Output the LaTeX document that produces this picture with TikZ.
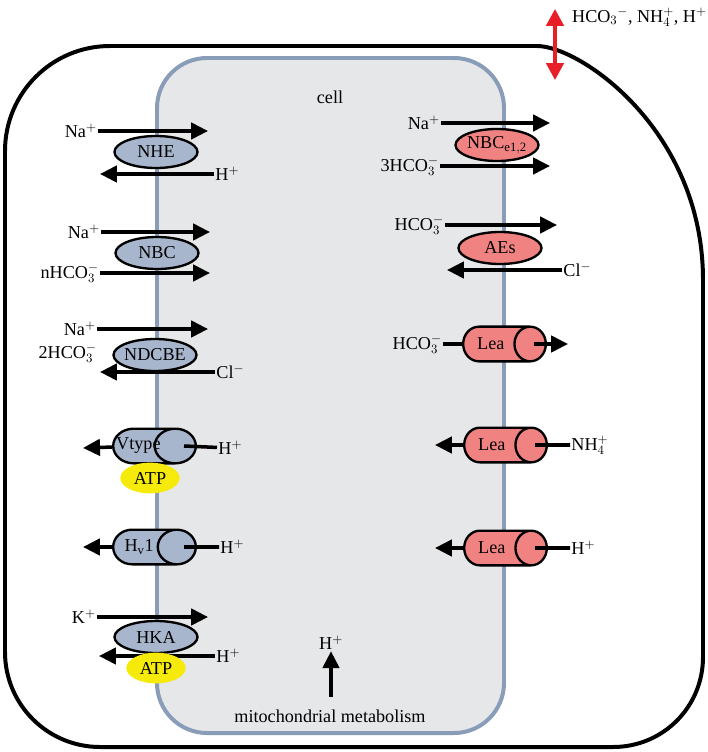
\documentclass[tikz,border=0pt]{standalone}
\usepackage{fontspec}
\setmainfont{Liberation Serif}
\usetikzlibrary{arrows.meta,calc,shapes.geometric}
\newcommand\zw[1]{\makebox[0pt]{#1}}
\newcommand\cy[1]{\makebox[0pt]{\hspace{-9pt}#1}}

\begin{document}
\begin{tikzpicture}[x=0.03cm,y=-0.03cm,font=\fontsize{15.5}{18}\selectfont]
\definecolor{bluep}{RGB}{168,182,205}
\definecolor{pinkp}{RGB}{240,130,130}
\definecolor{atpyellow}{RGB}{245,234,10}
\definecolor{cellfill}{RGB}{230,231,233}
\definecolor{cellline}{RGB}{137,157,185}
\definecolor{exred}{RGB}{232,30,40}
\tikzset{
  flux/.style={line width=3pt,-{Triangle[length=14.5pt,width=14pt]}},
  ion/.style={inner sep=1pt},
  pump/.style={ellipse,draw,line width=2pt,minimum width=2.49cm,minimum height=0.96cm,inner sep=0pt},
  chan/.style={cylinder,draw,line width=2pt,minimum width=1.04cm,minimum height=2.48cm,aspect=2.6,anchor=west,
    inner sep=0pt,cylinder uses custom fill,cylinder body fill=#1,cylinder end fill=#1},
  atp/.style={ellipse,fill=atpyellow,minimum width=1.78cm,minimum height=0.92cm,inner sep=0pt}
}
\useasboundingbox (0,0) rectangle (708,752);

% outer box
\draw[line width=3.4pt] (5,151) .. controls (5,93) and (52,46) .. (110,46) -- (537,46)
  .. controls (580,46) and (703,130) .. (703,280) -- (703,657)
  .. controls (703,707) and (663,747) .. (613,747) -- (100,747)
  .. controls (48,747) and (5,705) .. (5,652) -- cycle;
% cell
\draw[cellline,fill=cellfill,line width=3.4pt,rounded corners=1.5cm] (157,58) rectangle (504,733);
\node (cell) at (330,97) {cell};

% left membrane
\node[pump,fill=bluep] (nhe) at (156,152) {\zw{NHE}};
\node[pump,fill=bluep] (nbc) at (157,253) {\zw{NBC}};
\node[pump,fill=bluep] (ndcbe) at (155,355) {\zw{NDCBE}};
\node[chan=bluep] (vtype) at (112,446) {\cy{Vtype}};
\node[chan=bluep] (hv1) at (112,547) {\cy{H$_\mathrm{v}$1}};
\node[pump,fill=bluep] (hka) at (156,637) {\zw{HKA}};

\node[ion,anchor=east] (na1) at (98,131) {Na$^+$};
\node[ion,anchor=west] (h1) at (214,174) {H$^+$};
\node[ion,anchor=east] (na2) at (101,232) {Na$^+$};
\node[ion,anchor=east] (hco1) at (100,273) {nHCO$_3^-$};
\node[ion,anchor=east] (na3) at (97,329) {Na$^+$};
\node[ion,anchor=east] (hco2) at (98,353) {2HCO$_3^-$};
\node[ion,anchor=west] (cl1) at (215,372) {Cl$^-$};
\node[ion,anchor=west] (h2) at (217,448) {H$^+$};
\node[ion,anchor=west] (h3) at (219,547) {H$^+$};
\node[ion,anchor=east] (k1) at (97,617) {K$^+$};
\node[ion,anchor=west] (h4) at (215,656) {H$^+$};

\coordinate (na1t) at (208,131); \coordinate (h1t) at (100,174);
\coordinate (na2t) at (210,232); \coordinate (hco1t) at (210,273);
\coordinate (na3t) at (208,329); \coordinate (cl1t) at (100,372);
\coordinate (vtypet) at (83,448); \coordinate (hv1t) at (83,547);
\coordinate (k1t) at (208,617);  \coordinate (h4t) at (99,656);

% right membrane
\node[pump,fill=pinkp] (nbce) at (497,145) {\zw{NBC$_\mathrm{e1,2}$}};
\node[pump,fill=pinkp] (aes) at (500,248) {\zw{AEs}};
\node[chan=pinkp] (lea1) at (462,344) {\cy{Lea}};
\node[chan=pinkp] (lea2) at (463,445) {\cy{Lea}};
\node[chan=pinkp] (lea3) at (463,548) {\cy{Lea}};

\node[ion,anchor=east] (na4) at (441,123) {Na$^+$};
\node[ion,anchor=east] (hco3) at (440,166) {3HCO$_3^-$};
\node[ion,anchor=east] (hco4) at (445,225) {HCO$_3^-$};
\node[ion,anchor=west] (cl2) at (562,270) {Cl$^-$};
\node[ion,anchor=east] (hco5) at (443,344) {HCO$_3^-$};
\node[ion,anchor=west] (nh1) at (570,445) {NH$_4^+$};
\node[ion,anchor=west] (h5) at (570,548) {H$^+$};

\coordinate (na4t) at (550,123); \coordinate (hco3t) at (550,166);
\coordinate (hco4t) at (557,225); \coordinate (cl2t) at (447,270);
\coordinate (lea1t) at (568,344); \coordinate (lea2t) at (435,445);
\coordinate (lea3t) at (435,548);

\foreach \a in {na1,h1,na2,hco1,na3,cl1,vtype,hv1,k1,h4,na4,hco3,hco4,cl2,lea2,lea3}
  \draw[flux] (\a) -- (\a t);
\foreach \c/\i in {vtype/h2,hv1/h3,lea2/nh1,lea3/h5}
  \draw[line width=3pt] ($(\c.east)+(-13,0)$) -- (\i);
\draw[line width=3pt] (hco5) -- (lea1);
\draw[flux] ($(lea1.east)+(-13,0)$) -- (lea1t);

\node[atp] (atp1) at (150,478) {ATP};
\node[atp] (atp2) at (156,668) {ATP};

% mitochondria
\node (mito) at (330,716) {mitochondrial metabolism};
\node[ion] (h6) at (331,643) {H$^+$};
\coordinate (mitot) at (331,697);
\draw[flux] (mitot) -- (h6);

% exchange with outside
\coordinate (ex1) at (555,9); \coordinate (ex2) at (555,80);
\draw[exred,line width=2.6pt,{Triangle[length=14.5pt,width=15pt]}-{Triangle[length=14.5pt,width=15pt]}] (ex1) -- (ex2);
\node[anchor=west] (ext) at (568,17) {HCO$_3{}^-$, NH$_4^+$, H$^+$};
\end{tikzpicture}
\end{document}
